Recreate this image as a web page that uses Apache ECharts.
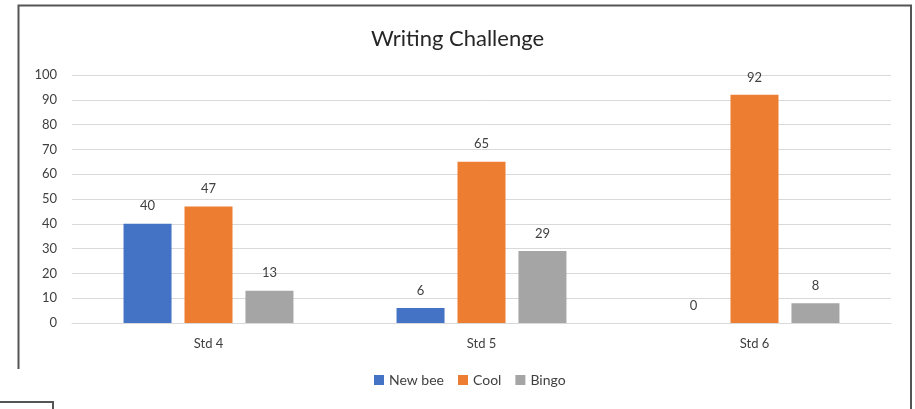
<!DOCTYPE html>
<html>
<head>
<meta charset="utf-8">
<script src="https://cdn.jsdelivr.net/npm/echarts@6/dist/echarts.min.js"></script>
<style>
html,body{margin:0;padding:0;background:#fff;}
#c{width:915px;height:409px;}
</style>
</head>
<body>
<div id="c"></div>
<script>
var categories = ['Std 4', 'Std 5', 'Std 6'];
var newBee = [40, 6, 0];
var cool = [47, 65, 92];
var bingo = [13, 29, 8];
var seriesNames = ['New bee', 'Cool', 'Bingo'];
var colors = ['#4472C4', '#ED7D31', '#A5A5A5'];
var FONT = 'Lato';

var chart = echarts.init(document.getElementById('c'), null, {renderer: 'canvas'});
function mk(name, data, color) {
  return {
    name: name, type: 'bar', data: data, barWidth: 48, barGap: '27%',
    itemStyle: {color: color},
    label: {show: true, position: 'top', distance: 11, color: '#404040', fontFamily: FONT, fontSize: 13},
    emphasis: {disabled: true}
  };
}
chart.setOption({
  animation: false,
  textStyle: {fontFamily: FONT},
  title: {
    text: 'Writing Challenge', left: 'center', top: 23,
    textStyle: {fontFamily: FONT, fontSize: 22, fontWeight: 'normal', color: '#262626'}
  },
  legend: {
    bottom: 17, left: 369, itemWidth: 10, itemHeight: 10, itemGap: 14,
    icon: 'rect',
    textStyle: {fontFamily: FONT, fontSize: 14, color: '#404040'},
    data: seriesNames
  },
  grid: {left: 72, right: 24, top: 75, bottom: 86, containLabel: false},
  xAxis: {
    type: 'category', data: categories,
    axisLine: {lineStyle: {color: '#d9d9d9'}},
    axisTick: {show: false},
    axisLabel: {color: '#404040', fontSize: 13, fontFamily: FONT, margin: 14}
  },
  yAxis: {
    type: 'value', min: 0, max: 100, interval: 10,
    axisLine: {show: false}, axisTick: {show: false},
    axisLabel: {color: '#404040', fontSize: 13, fontFamily: FONT, margin: 15},
    splitLine: {lineStyle: {color: '#d9d9d9'}}
  },
  series: [mk(seriesNames[0], newBee, colors[0]), mk(seriesNames[1], cool, colors[1]), mk(seriesNames[2], bingo, colors[2])],
  graphic: [
    {type: 'polyline', shape: {points: [[18.5, 369], [18.5, 5.5], [911, 5.5], [911, 409]]}, style: {stroke: '#555', lineWidth: 2, fill: null}, silent: true},
    {type: 'polyline', shape: {points: [[0, 402], [53, 402], [53, 409]]}, style: {stroke: '#555', lineWidth: 2, fill: null}, silent: true}
  ]
});
</script>
</body>
</html>
